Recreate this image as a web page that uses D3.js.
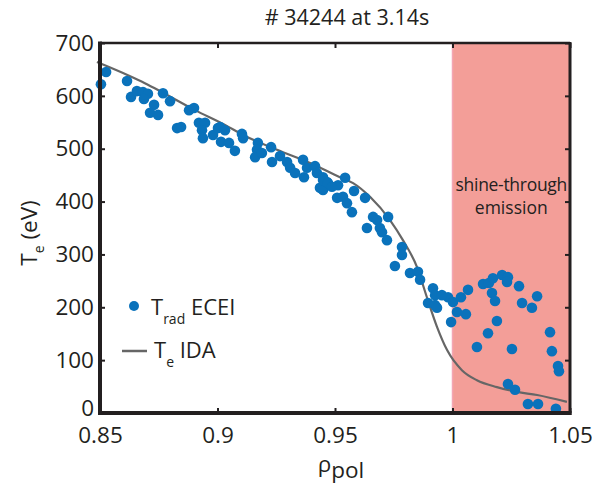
<!DOCTYPE html>
<html>
<head>
<meta charset="utf-8">
<script src="https://cdn.jsdelivr.net/npm/d3@7"></script>
<style>
  body { margin: 0; background: #fff; }
  text { font-family: "Open Sans", "Noto Sans", sans-serif; fill: #231f20; }
</style>
</head>
<body>
<div id="chart"></div>
<script>
// ECEI radiation temperature points (rho_pol, T_rad in eV)
let eceiRho = [
  0.8526, 0.8504, 0.8615, 0.8632, 0.8657, 0.8683, 0.8704, 0.8687, 0.8730, 0.8713,
  0.8747, 0.8768, 0.8798, 0.8828, 0.8845, 0.8879, 0.8900, 0.8921, 0.8947, 0.8934,
  0.8938, 0.8981, 0.9002, 0.9015, 0.9011, 0.9032, 0.9049, 0.9074, 0.9104, 0.9109,
  0.9172, 0.9168, 0.9160, 0.9189, 0.9228, 0.9232, 0.9266, 0.9296, 0.9309, 0.9330,
  0.9364, 0.9368, 0.9381, 0.9415, 0.9423, 0.9449, 0.9466, 0.9436, 0.9449, 0.9513,
  0.9509, 0.9449, 0.9470, 0.9487, 0.9543, 0.9534, 0.9551, 0.9572, 0.9581, 0.9628,
  0.9662, 0.9679, 0.9636, 0.9691, 0.9700, 0.9726, 0.9721, 0.9785, 0.9785, 0.9755,
  0.9819, 0.9853, 0.9862, 0.9917, 0.9926, 0.9896, 0.9926, 0.9934, 0.9981, 0.9955,
  1.0002, 1.0036, 1.0066, 1.0019, 1.0057, 0.9994, 1.0130, 1.0155, 1.0172, 1.0211,
  1.0236, 1.0232, 1.0168, 1.0181, 1.0283, 1.0296, 1.0338, 1.0360, 1.0189, 1.0151,
  1.0104, 1.0253, 1.0415, 1.0423, 1.0449, 1.0453, 1.0236, 1.0266, 1.0321, 1.0364,
  1.0440
]
let eceiTrad = [
  645, 622, 628, 598, 609, 607, 604, 594, 583, 568,
  564, 605, 590, 539, 541, 573, 577, 549, 549, 535,
  520, 526, 539, 513, 541, 535, 511, 496, 528, 520,
  511, 498, 484, 492, 503, 475, 486, 475, 464, 454,
  479, 446, 464, 467, 454, 446, 437, 426, 422, 431,
  407, 441, 435, 428, 445, 409, 397, 380, 420, 407,
  371, 365, 350, 350, 342, 371, 327, 314, 299, 278,
  265, 267, 252, 236, 223, 208, 204, 199, 219, 223,
  210, 219, 233, 191, 187, 172, 244, 246, 255, 261,
  257, 248, 227, 212, 240, 208, 199, 221, 174, 151,
  125, 121, 153, 117, 89, 79, 55, 44, 17, 17,
  8
]

// IDA electron temperature profile
let idaRho = [
  0.8487, 0.8619, 0.8691, 0.8764, 0.8904, 0.9032, 0.9109, 0.9253, 0.9394, 0.9521,
  0.9577, 0.9649, 0.9734, 0.9789, 0.9849, 0.9891, 0.9934, 0.9977, 1.0040, 1.0104,
  1.0189, 1.0274, 1.0360, 1.0487
]
let idaTe = [
  664, 639, 624, 607, 573, 545, 526, 498, 473, 446,
  435, 409, 365, 327, 276, 219, 163, 119, 81, 62,
  49, 40, 34, 21
]

let xTicks = [0.85, 0.9, 0.95, 1, 1.05]
let xTickLabels = ['0.85', '0.9', '0.95', '1', '1.05']
let yTicks = [0, 100, 200, 300, 400, 500, 600, 700]
let shineRange = [1.0, 1.05]

let width = 592
let height = 487
let margin = { top: 43, left: 100, right: 22, bottom: 74 }

let svg = d3.select('#chart')
  .append('svg')
  .attr('width', width)
  .attr('height', height)

let xPositionScale = d3.scaleLinear()
  .domain([0.85, 1.05])
  .range([margin.left, width - margin.right])

let yPositionScale = d3.scaleLinear()
  .domain([0, 700])
  .range([height - margin.bottom, margin.top])

let x0 = xPositionScale.range()[0]
let x1 = xPositionScale.range()[1]
let y0 = yPositionScale.range()[0]
let y1 = yPositionScale.range()[1]

// shaded shine-through region
svg.append('rect')
  .attr('x', xPositionScale(shineRange[0]))
  .attr('y', y1)
  .attr('width', xPositionScale(shineRange[1]) - xPositionScale(shineRange[0]))
  .attr('height', y0 - y1)
  .attr('fill', '#f39e98')

svg.append('line')
  .attr('x1', xPositionScale(shineRange[0]))
  .attr('x2', xPositionScale(shineRange[0]))
  .attr('y1', y1)
  .attr('y2', y0)
  .attr('stroke', '#f4a6b4')
  .attr('stroke-width', 1.5)

let shineX = (xPositionScale(shineRange[0]) + xPositionScale(shineRange[1])) / 2
svg.append('text')
  .attr('x', shineX)
  .attr('y', 191)
  .attr('text-anchor', 'middle')
  .attr('font-size', 17.5)
  .attr('letter-spacing', -0.3)
  .text('shine-through')
svg.append('text')
  .attr('x', shineX)
  .attr('y', 214)
  .attr('text-anchor', 'middle')
  .attr('font-size', 17.5)
  .text('emission')

// axes (ticks point inward)
let xAxis = d3.axisBottom(xPositionScale)
  .tickValues(xTicks)
  .tickFormat((d, i) => xTickLabels[i])
  .tickSizeInner(-5)
  .tickSizeOuter(0)
  .tickPadding(14)

let yAxis = d3.axisLeft(yPositionScale)
  .tickValues(yTicks)
  .tickSizeInner(-5)
  .tickSizeOuter(0)
  .tickPadding(6)

svg.append('g')
  .attr('class', 'axis x-axis')
  .attr('transform', `translate(0,${y0})`)
  .call(xAxis)

svg.append('g')
  .attr('class', 'axis y-axis')
  .attr('transform', `translate(${x0},0)`)
  .call(yAxis)

svg.append('g')
  .attr('class', 'axis x-top')
  .attr('transform', `translate(0,${y1})`)
  .call(d3.axisTop(xPositionScale).tickValues(xTicks).tickFormat('').tickSizeInner(-5).tickSizeOuter(0))

svg.append('g')
  .attr('class', 'axis y-right')
  .attr('transform', `translate(${x1},0)`)
  .call(d3.axisRight(yPositionScale).tickValues(yTicks).tickFormat('').tickSizeInner(-5).tickSizeOuter(0))

svg.selectAll('.axis .domain').remove()
svg.selectAll('.axis .tick line')
  .attr('stroke', '#231f20')
  .attr('stroke-width', 2)
svg.selectAll('.axis text')
  .attr('font-size', 22.5)
  .attr('fill', '#231f20')
  .style('font-family', '"Open Sans", sans-serif')

// the zero label sits a little high, as in the original
svg.selectAll('.y-axis .tick text')
  .filter(d => d === 0)
  .attr('dy', '0.1em')

// IDA line
let line = d3.line()
  .x((d, i) => xPositionScale(idaRho[i]))
  .y((d, i) => yPositionScale(idaTe[i]))
  .curve(d3.curveMonotoneX)

svg.append('path')
  .datum(idaTe)
  .attr('d', line)
  .attr('fill', 'none')
  .attr('stroke', '#666666')
  .attr('stroke-width', 2.2)

// ECEI points
svg.selectAll('.ecei')
  .data(eceiTrad)
  .enter()
  .append('circle')
  .attr('class', 'ecei')
  .attr('cx', (d, i) => xPositionScale(eceiRho[i]))
  .attr('cy', d => yPositionScale(d))
  .attr('r', 5.3)
  .attr('fill', '#0a72bb')

// frame
svg.append('line').attr('x1', x0).attr('x2', x1).attr('y1', y1).attr('y2', y1)
  .attr('stroke', '#231f20').attr('stroke-width', 2.5)
svg.append('line').attr('x1', x1).attr('x2', x1).attr('y1', y1 - 1).attr('y2', y0 + 2)
  .attr('stroke', '#231f20').attr('stroke-width', 3)
svg.append('line').attr('x1', x0).attr('x2', x1 + 1.5).attr('y1', y0).attr('y2', y0)
  .attr('stroke', '#231f20').attr('stroke-width', 4)
svg.append('line').attr('x1', x0).attr('x2', x0).attr('y1', y1 - 1.5).attr('y2', y0 + 2)
  .attr('stroke', '#231f20').attr('stroke-width', 4)

// legend
svg.append('circle')
  .attr('cx', 134)
  .attr('cy', 306)
  .attr('r', 5)
  .attr('fill', '#0a72bb')
let leg1 = svg.append('text').attr('x', 151).attr('y', 315).attr('font-size', 22)
leg1.append('tspan').text('T')
leg1.append('tspan').attr('font-size', 14).attr('dy', 9).text('rad')
leg1.append('tspan').attr('dy', -9).text(' ECEI')

svg.append('line')
  .attr('x1', 122)
  .attr('x2', 147)
  .attr('y1', 351)
  .attr('y2', 351)
  .attr('stroke', '#666666')
  .attr('stroke-width', 2.5)
let leg2 = svg.append('text').attr('x', 154).attr('y', 358).attr('font-size', 22)
leg2.append('tspan').text('T')
leg2.append('tspan').attr('font-size', 14).attr('dy', 9).text('e')
leg2.append('tspan').attr('dy', -9).text(' IDA')

// title and axis labels
svg.append('text')
  .attr('x', 347)
  .attr('y', 25)
  .attr('text-anchor', 'middle')
  .attr('font-size', 21.5)
  .text('# 34244 at 3.14s')

let xl = svg.append('text')
  .attr('x', 341)
  .attr('y', 472)
  .attr('text-anchor', 'middle')
  .attr('font-size', 22.5)
xl.append('tspan').text('ρ')
xl.append('tspan').attr('dy', 6).text('pol')

let yl = svg.append('text')
  .attr('transform', 'translate(37,233) rotate(-90)')
  .attr('text-anchor', 'middle')
  .attr('font-size', 22.5)
yl.append('tspan').text('T')
yl.append('tspan').attr('font-size', 14).attr('dy', 7).text('e')
yl.append('tspan').attr('dy', -7).text(' (eV)')
</script>
</body>
</html>
